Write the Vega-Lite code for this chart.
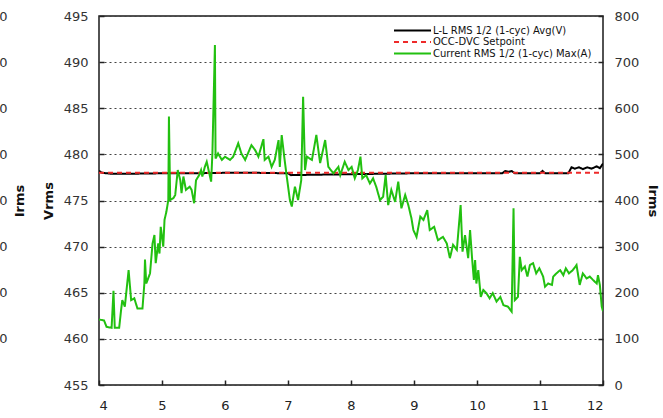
{
  "$schema": "https://vega.github.io/schema/vega-lite/v6.json",
  "width": 504,
  "height": 369,
  "autosize": {"type": "none"},
  "padding": {"left": 99, "top": 16, "right": 60, "bottom": 33},
  "background": "white",
  "config": {
    "view": {"stroke": "#1a1a1a", "strokeWidth": 1.5},
    "font": "DejaVu Sans",
    "axis": {
      "labelFont": "DejaVu Sans",
      "labelFontSize": 13,
      "labelColor": "#333333",
      "titleFont": "DejaVu Sans",
      "titleFontSize": 13,
      "titleFontWeight": "bold",
      "titleColor": "#111111",
      "domain": false,
      "tickColor": "#222222",
      "tickWidth": 1.5
    }
  },
  "datasets": {
    "volt": [
      {"t": 4.0, "v": 478.2, "series": "L-L RMS 1/2 (1-cyc) Avg(V)"},
      {"t": 4.05, "v": 478.0, "series": "L-L RMS 1/2 (1-cyc) Avg(V)"},
      {"t": 4.2, "v": 477.9, "series": "L-L RMS 1/2 (1-cyc) Avg(V)"},
      {"t": 4.5, "v": 477.9, "series": "L-L RMS 1/2 (1-cyc) Avg(V)"},
      {"t": 5.0, "v": 477.95, "series": "L-L RMS 1/2 (1-cyc) Avg(V)"},
      {"t": 5.5, "v": 477.95, "series": "L-L RMS 1/2 (1-cyc) Avg(V)"},
      {"t": 6.0, "v": 478.0, "series": "L-L RMS 1/2 (1-cyc) Avg(V)"},
      {"t": 6.5, "v": 478.0, "series": "L-L RMS 1/2 (1-cyc) Avg(V)"},
      {"t": 7.0, "v": 477.95, "series": "L-L RMS 1/2 (1-cyc) Avg(V)"},
      {"t": 7.05, "v": 477.75, "series": "L-L RMS 1/2 (1-cyc) Avg(V)"},
      {"t": 7.5, "v": 477.8, "series": "L-L RMS 1/2 (1-cyc) Avg(V)"},
      {"t": 8.0, "v": 477.85, "series": "L-L RMS 1/2 (1-cyc) Avg(V)"},
      {"t": 8.5, "v": 477.9, "series": "L-L RMS 1/2 (1-cyc) Avg(V)"},
      {"t": 9.0, "v": 477.95, "series": "L-L RMS 1/2 (1-cyc) Avg(V)"},
      {"t": 9.5, "v": 477.95, "series": "L-L RMS 1/2 (1-cyc) Avg(V)"},
      {"t": 10.0, "v": 477.95, "series": "L-L RMS 1/2 (1-cyc) Avg(V)"},
      {"t": 10.4, "v": 477.95, "series": "L-L RMS 1/2 (1-cyc) Avg(V)"},
      {"t": 10.45, "v": 478.2, "series": "L-L RMS 1/2 (1-cyc) Avg(V)"},
      {"t": 10.5, "v": 478.1, "series": "L-L RMS 1/2 (1-cyc) Avg(V)"},
      {"t": 10.55, "v": 478.2, "series": "L-L RMS 1/2 (1-cyc) Avg(V)"},
      {"t": 10.6, "v": 477.95, "series": "L-L RMS 1/2 (1-cyc) Avg(V)"},
      {"t": 11.0, "v": 477.95, "series": "L-L RMS 1/2 (1-cyc) Avg(V)"},
      {"t": 11.04, "v": 478.2, "series": "L-L RMS 1/2 (1-cyc) Avg(V)"},
      {"t": 11.08, "v": 477.95, "series": "L-L RMS 1/2 (1-cyc) Avg(V)"},
      {"t": 11.45, "v": 477.95, "series": "L-L RMS 1/2 (1-cyc) Avg(V)"},
      {"t": 11.5, "v": 478.6, "series": "L-L RMS 1/2 (1-cyc) Avg(V)"},
      {"t": 11.55, "v": 478.45, "series": "L-L RMS 1/2 (1-cyc) Avg(V)"},
      {"t": 11.62, "v": 478.6, "series": "L-L RMS 1/2 (1-cyc) Avg(V)"},
      {"t": 11.68, "v": 478.4, "series": "L-L RMS 1/2 (1-cyc) Avg(V)"},
      {"t": 11.75, "v": 478.6, "series": "L-L RMS 1/2 (1-cyc) Avg(V)"},
      {"t": 11.82, "v": 478.45, "series": "L-L RMS 1/2 (1-cyc) Avg(V)"},
      {"t": 11.9, "v": 478.7, "series": "L-L RMS 1/2 (1-cyc) Avg(V)"},
      {"t": 11.95, "v": 478.5, "series": "L-L RMS 1/2 (1-cyc) Avg(V)"},
      {"t": 12.0, "v": 479.0, "series": "L-L RMS 1/2 (1-cyc) Avg(V)"},
      {"t": 4.0, "v": 478.0, "series": "OCC-DVC Setpoint"},
      {"t": 12.0, "v": 478.0, "series": "OCC-DVC Setpoint"}
    ],
    "cur": [
      {"t": 4.0, "i": 142}, {"t": 4.08, "i": 140}, {"t": 4.12, "i": 126}, {"t": 4.2, "i": 124},
      {"t": 4.23, "i": 204}, {"t": 4.25, "i": 124}, {"t": 4.32, "i": 124}, {"t": 4.35, "i": 162},
      {"t": 4.37, "i": 184}, {"t": 4.41, "i": 170}, {"t": 4.47, "i": 249}, {"t": 4.51, "i": 184},
      {"t": 4.56, "i": 188}, {"t": 4.61, "i": 166}, {"t": 4.69, "i": 166}, {"t": 4.72, "i": 220},
      {"t": 4.73, "i": 272}, {"t": 4.75, "i": 220}, {"t": 4.81, "i": 242}, {"t": 4.85, "i": 307},
      {"t": 4.88, "i": 325}, {"t": 4.9, "i": 264}, {"t": 4.94, "i": 307}, {"t": 4.96, "i": 285},
      {"t": 4.98, "i": 343}, {"t": 5.02, "i": 300}, {"t": 5.04, "i": 358}, {"t": 5.07, "i": 376},
      {"t": 5.1, "i": 401}, {"t": 5.11, "i": 582}, {"t": 5.13, "i": 401}, {"t": 5.18, "i": 405},
      {"t": 5.21, "i": 412}, {"t": 5.25, "i": 466}, {"t": 5.29, "i": 444}, {"t": 5.31, "i": 416},
      {"t": 5.34, "i": 452}, {"t": 5.38, "i": 423}, {"t": 5.44, "i": 430}, {"t": 5.47, "i": 423},
      {"t": 5.51, "i": 394}, {"t": 5.54, "i": 444}, {"t": 5.59, "i": 455}, {"t": 5.62, "i": 466},
      {"t": 5.64, "i": 452}, {"t": 5.68, "i": 473}, {"t": 5.71, "i": 484}, {"t": 5.78, "i": 441},
      {"t": 5.8, "i": 502}, {"t": 5.84, "i": 737}, {"t": 5.85, "i": 491}, {"t": 5.89, "i": 502},
      {"t": 5.95, "i": 488}, {"t": 6.0, "i": 495}, {"t": 6.08, "i": 488}, {"t": 6.13, "i": 495},
      {"t": 6.21, "i": 524}, {"t": 6.26, "i": 502}, {"t": 6.32, "i": 488}, {"t": 6.42, "i": 520},
      {"t": 6.48, "i": 509}, {"t": 6.53, "i": 495}, {"t": 6.61, "i": 533}, {"t": 6.63, "i": 488},
      {"t": 6.69, "i": 495}, {"t": 6.74, "i": 473}, {"t": 6.79, "i": 488}, {"t": 6.85, "i": 531},
      {"t": 6.87, "i": 473}, {"t": 6.9, "i": 542}, {"t": 6.94, "i": 495}, {"t": 6.98, "i": 452},
      {"t": 7.03, "i": 401}, {"t": 7.06, "i": 387}, {"t": 7.11, "i": 430}, {"t": 7.16, "i": 401},
      {"t": 7.21, "i": 444}, {"t": 7.24, "i": 625}, {"t": 7.27, "i": 466}, {"t": 7.3, "i": 495},
      {"t": 7.38, "i": 488}, {"t": 7.45, "i": 542}, {"t": 7.51, "i": 481}, {"t": 7.59, "i": 531},
      {"t": 7.64, "i": 473}, {"t": 7.72, "i": 459}, {"t": 7.8, "i": 473}, {"t": 7.83, "i": 455},
      {"t": 7.9, "i": 484}, {"t": 7.96, "i": 466}, {"t": 8.01, "i": 473}, {"t": 8.06, "i": 448},
      {"t": 8.11, "i": 466}, {"t": 8.15, "i": 495}, {"t": 8.18, "i": 448}, {"t": 8.24, "i": 455},
      {"t": 8.3, "i": 437}, {"t": 8.35, "i": 448}, {"t": 8.4, "i": 430}, {"t": 8.46, "i": 401},
      {"t": 8.51, "i": 408}, {"t": 8.55, "i": 455}, {"t": 8.59, "i": 390}, {"t": 8.64, "i": 423},
      {"t": 8.7, "i": 397}, {"t": 8.75, "i": 441}, {"t": 8.8, "i": 383}, {"t": 8.86, "i": 412},
      {"t": 8.91, "i": 390}, {"t": 8.96, "i": 361}, {"t": 8.99, "i": 336}, {"t": 9.04, "i": 321},
      {"t": 9.1, "i": 365}, {"t": 9.15, "i": 358}, {"t": 9.21, "i": 379}, {"t": 9.25, "i": 336},
      {"t": 9.32, "i": 343}, {"t": 9.38, "i": 314}, {"t": 9.46, "i": 321}, {"t": 9.52, "i": 307},
      {"t": 9.57, "i": 275}, {"t": 9.62, "i": 304}, {"t": 9.68, "i": 293}, {"t": 9.74, "i": 390},
      {"t": 9.77, "i": 289}, {"t": 9.81, "i": 325}, {"t": 9.86, "i": 275}, {"t": 9.89, "i": 336},
      {"t": 9.92, "i": 278}, {"t": 9.95, "i": 228}, {"t": 9.97, "i": 271}, {"t": 9.99, "i": 220},
      {"t": 10.02, "i": 249}, {"t": 10.06, "i": 191}, {"t": 10.1, "i": 206}, {"t": 10.15, "i": 199},
      {"t": 10.2, "i": 188}, {"t": 10.25, "i": 199}, {"t": 10.31, "i": 181}, {"t": 10.37, "i": 191},
      {"t": 10.42, "i": 173}, {"t": 10.49, "i": 170}, {"t": 10.55, "i": 159}, {"t": 10.58, "i": 383},
      {"t": 10.6, "i": 184}, {"t": 10.65, "i": 191}, {"t": 10.68, "i": 278}, {"t": 10.71, "i": 249},
      {"t": 10.76, "i": 257}, {"t": 10.8, "i": 235}, {"t": 10.84, "i": 260}, {"t": 10.89, "i": 264},
      {"t": 10.94, "i": 242}, {"t": 10.99, "i": 253}, {"t": 11.05, "i": 235}, {"t": 11.08, "i": 213},
      {"t": 11.13, "i": 220}, {"t": 11.19, "i": 217}, {"t": 11.21, "i": 235}, {"t": 11.26, "i": 242},
      {"t": 11.32, "i": 249}, {"t": 11.37, "i": 238}, {"t": 11.41, "i": 253}, {"t": 11.46, "i": 242},
      {"t": 11.52, "i": 249}, {"t": 11.58, "i": 260}, {"t": 11.63, "i": 217}, {"t": 11.68, "i": 242},
      {"t": 11.74, "i": 231}, {"t": 11.79, "i": 235}, {"t": 11.84, "i": 228}, {"t": 11.9, "i": 220},
      {"t": 11.92, "i": 238}, {"t": 11.95, "i": 217}, {"t": 11.98, "i": 170}, {"t": 12.0, "i": 160}
    ]
  },
  "encoding": {
    "x": {
      "field": "t",
      "type": "quantitative",
      "scale": {"domain": [4, 12], "nice": false, "zero": false},
      "axis": {
        "title": null,
        "values": [4, 5, 6, 7, 8, 9, 10, 11, 12],
        "tickSize": -5,
        "labelPadding": 19,
        "grid": false,
        "labelColor": "#222222"
      }
    }
  },
  "layer": [
    {
      "data": {"name": "volt"},
      "mark": {"type": "line", "strokeWidth": 2, "clip": true},
      "encoding": {
        "y": {
          "field": "v",
          "type": "quantitative",
          "scale": {"domain": [455, 495], "nice": false, "zero": false},
          "axis": {
            "orient": "left",
            "title": "Vrms",
            "values": [455, 460, 465, 470, 475, 480, 485, 490, 495],
            "grid": true,
            "gridDash": [2, 3],
            "gridColor": "#444444",
            "gridWidth": 1,
            "tickSize": -5,
            "labelPadding": 16,
            "titlePadding": 8
          }
        },
        "color": {
          "field": "series",
          "type": "nominal",
          "scale": {
            "domain": ["L-L RMS 1/2 (1-cyc) Avg(V)", "OCC-DVC Setpoint", "Current RMS 1/2 (1-cyc) Max(A)"],
            "range": ["#000000", "#ee2a2a", "#22c010"]
          },
          "legend": {
            "title": null,
            "orient": "none",
            "legendX": 294,
            "legendY": 9,
            "direction": "vertical",
            "symbolType": "stroke",
            "symbolSize": 1369,
            "symbolStrokeWidth": 2,
            "clipHeight": 11,
            "rowPadding": 0.5,
            "padding": 0,
            "labelFont": "DejaVu Sans",
            "labelFontSize": 10,
            "labelColor": "#111111",
            "labelOffset": 1,
            "labelLimit": 300
          }
        },
        "strokeDash": {
          "field": "series",
          "type": "nominal",
          "scale": {
            "domain": ["L-L RMS 1/2 (1-cyc) Avg(V)", "OCC-DVC Setpoint", "Current RMS 1/2 (1-cyc) Max(A)"],
            "range": [[1, 0], [5, 4], [1, 0]]
          },
          "legend": {
            "title": null,
            "orient": "none",
            "legendX": 294,
            "legendY": 9,
            "direction": "vertical",
            "symbolType": "stroke",
            "symbolSize": 1369,
            "symbolStrokeWidth": 2,
            "clipHeight": 11,
            "rowPadding": 0.5,
            "padding": 0,
            "labelFont": "DejaVu Sans",
            "labelFontSize": 10,
            "labelColor": "#111111",
            "labelOffset": 1,
            "labelLimit": 300
          }
        }
      }
    },
    {
      "data": {"name": "cur"},
      "transform": [{"calculate": "'Current RMS 1/2 (1-cyc) Max(A)'", "as": "series"}],
      "mark": {"type": "line", "strokeWidth": 2, "clip": true},
      "encoding": {
        "y": {
          "field": "i",
          "type": "quantitative",
          "scale": {"domain": [0, 800], "nice": false},
          "axis": {
            "orient": "right",
            "title": "Irms",
            "values": [0, 100, 200, 300, 400, 500, 600, 700, 800],
            "grid": false,
            "tickSize": -5,
            "labelPadding": 16,
            "titlePadding": 7
          }
        },
        "color": {"field": "series", "type": "nominal"},
        "strokeDash": {"field": "series", "type": "nominal"}
      }
    },
    {
      "data": {"name": "cur"},
      "mark": {"type": "line", "opacity": 0},
      "encoding": {
        "y": {
          "field": "i",
          "type": "quantitative",
          "scale": {"domain": [0, 800], "nice": false},
          "axis": {
            "orient": "left",
            "offset": 92,
            "title": "Irms",
            "values": [100, 200, 300, 400, 500, 600, 700, 800],
            "grid": false,
            "ticks": false,
            "labelPadding": 0,
            "titleX": 19
          }
        }
      }
    }
  ],
  "resolve": {"scale": {"y": "independent"}}
}
